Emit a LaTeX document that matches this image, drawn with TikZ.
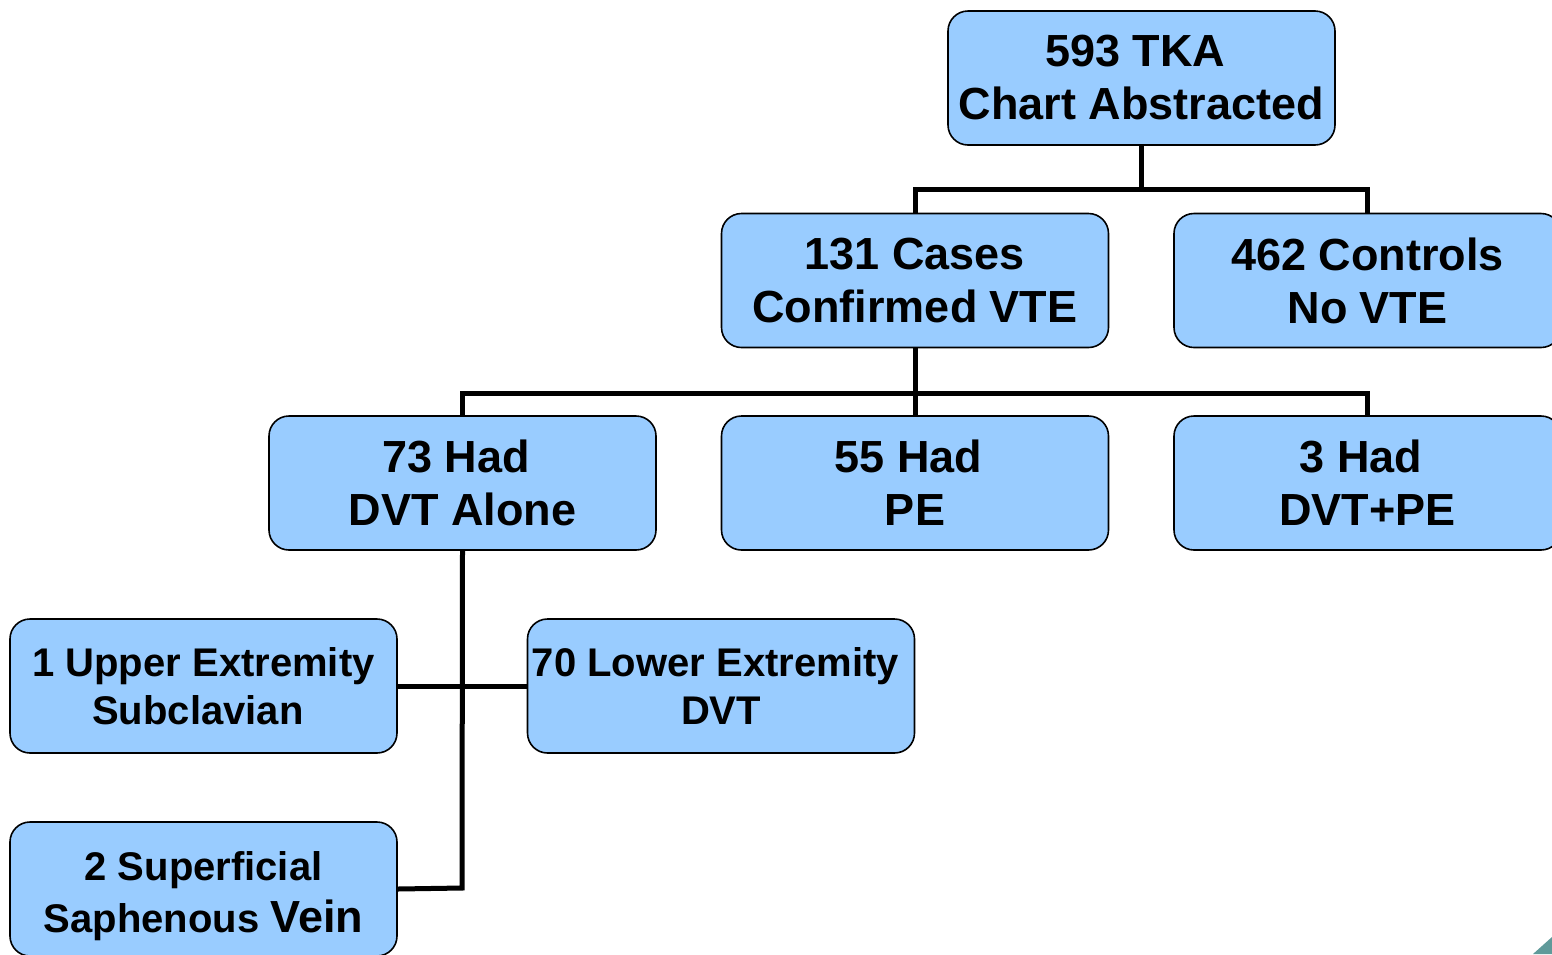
\documentclass[tikz,border=0pt]{standalone}
\usepackage{fontspec}
\setmainfont{Liberation Sans}
\definecolor{boxblue}{HTML}{99CCFF}
\definecolor{teal1}{HTML}{5F9A9A}
\newcommand{\tsp}{\hspace*{0.28em}}
\begin{document}
\begin{tikzpicture}[x=1pt,y=-1pt,
  box/.style={draw=black,line width=1.6pt,fill=boxblue,rounded corners=20pt,
    minimum width=387pt,minimum height=134pt,inner sep=0pt,align=center,
    font=\bfseries\fontsize{45}{53}\selectfont},
  smallbox/.style={box,font=\bfseries\fontsize{40}{48}\selectfont},
  conn/.style={draw=black,line width=5pt}]
\useasboundingbox (0,0) rectangle (1552,954);
\clip (0,0) rectangle (1552,954);
\fill[white] (0,0) rectangle (1552,954);
\coordinate (j1) at (1141.5,189);
\coordinate (j2) at (915,393);
\coordinate (j3) at (462,686);
\coordinate (j4) at (462,888);
\node[box] (top) at (1141.5,78) {593 TKA\tsp\\Chart Abstracted};
\node[box] (cases) at (915,280.5) {131 Cases\\Confirmed VTE};
\node[box] (controls) at (1367.5,280.5) {462 Controls\\No VTE};
\node[box] (dvt) at (462.5,483) {73 Had\tsp\\DVT Alone};
\node[box] (pe) at (915,483) {55 Had\tsp\\PE};
\node[box] (both) at (1367.5,483) {3 Had\tsp\\DVT+PE};
\node[smallbox] (upper) at (203.5,686) {1 Upper Extremity\\Subclavian\tsp};
\node[smallbox] (lower) at (721,686) {70 Lower Extremity\tsp\\DVT};
\node[smallbox] (sup) at (203.5,889) {\rule{0pt}{43pt}2 Superficial\\[4pt]Saphenous {\fontsize{45}{48}\selectfont Vein}};
\draw[conn] (top.south) -- (j1) -| (cases.north);
\draw[conn] (j1) -| (controls.north);
\draw[conn] (cases.south) -- (j2) -- (pe.north);
\draw[conn] (j2) -| (dvt.north);
\draw[conn] (j2) -| (both.north);
\draw[conn] (dvt.south) -- (j4) -- (sup.east);
\draw[conn] (upper.east) -- (lower.west);
\fill[teal1] (1533,954) -- (1552,954) -- (1552,937) -- cycle;
\end{tikzpicture}
\end{document}
